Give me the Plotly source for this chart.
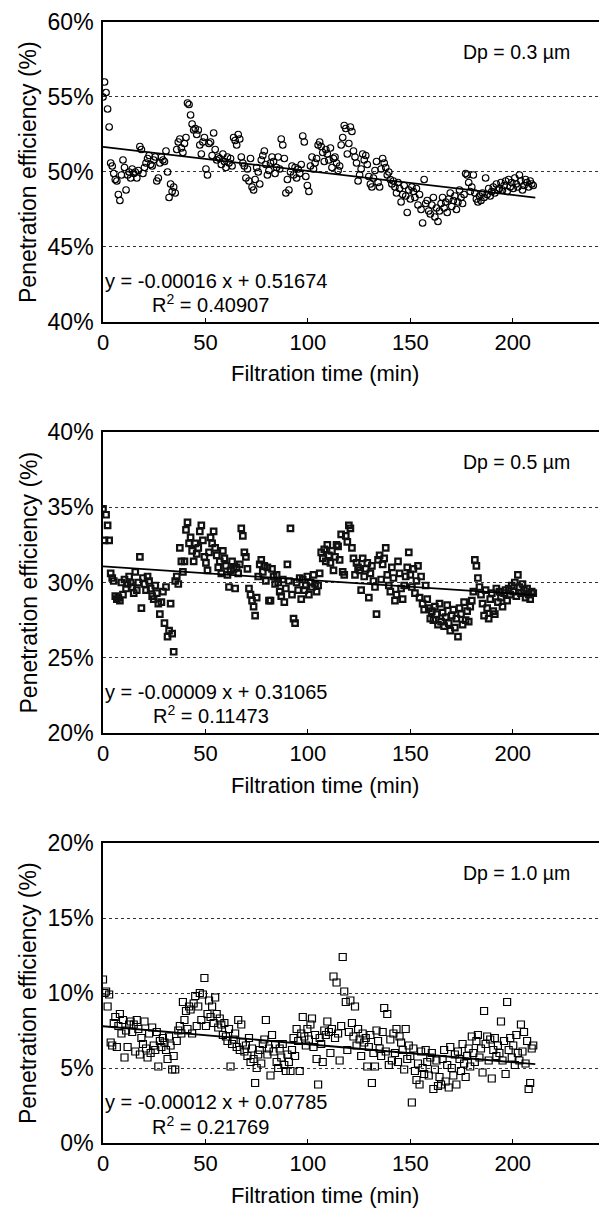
import plotly.graph_objects as go

# ---------------- data ----------------
time_step_min = 0.75  # sampling interval of the measurements

pe_03um = [  # penetration efficiency (%) for Dp = 0.3 um
    55.0, 56.0, 55.3, 54.2, 53.0, 50.6, 50.4, 49.9, 49.5, 49.4, 48.5, 48.1, 49.8, 50.8, 50.3, 48.8, 49.8, 50.0, 49.6, 50.2,
    49.9, 50.0, 49.6, 50.1, 51.7, 51.5, 49.9, 50.3, 50.6, 50.9, 51.1, 50.5, 50.4, 50.8, 51.0, 49.4, 49.6, 50.6, 51.0, 50.8,
    50.7, 51.4, 50.0, 48.3, 49.2, 48.7, 49.0, 48.6, 51.5, 52.0, 52.2, 51.6, 51.3, 51.9, 52.3, 54.6, 54.5, 53.8, 53.2, 52.8,
    52.9, 52.5, 52.8, 51.8, 51.2, 52.0, 52.3, 50.2, 49.8, 51.9, 52.0, 51.1, 52.6, 51.5, 50.8, 51.0, 50.9, 50.5, 51.2, 50.7,
    50.3, 51.0, 50.6, 50.9, 50.4, 52.3, 52.1, 51.8, 52.5, 52.2, 51.0, 50.6, 50.4, 49.6, 50.2, 49.4, 50.9, 49.0, 48.8, 49.5,
    50.3, 50.0, 49.2, 50.8, 51.1, 51.4, 50.5, 49.8, 50.1, 50.6, 51.0, 50.7, 49.9, 50.3, 51.0, 50.2, 52.2, 51.8, 50.9, 48.6,
    49.5, 48.8, 50.0, 50.4, 49.8, 50.3, 49.6, 50.2, 49.9, 50.5, 52.4, 52.0, 49.7, 49.1, 48.7, 50.4, 51.0, 50.2, 50.6, 50.9,
    51.8, 52.0, 51.7, 51.3, 50.7, 51.5, 51.2, 50.8, 51.6, 50.3, 50.9, 51.0, 50.6, 50.1, 50.4, 51.8, 52.3, 53.1, 52.9, 51.2,
    51.9, 53.0, 52.7, 51.4, 51.0, 50.6, 49.4, 49.8, 50.2, 51.2, 50.8, 51.1, 50.5, 49.7, 49.2, 49.0, 49.6, 50.1, 50.7, 49.3,
    49.0, 50.2, 50.9, 50.6, 50.3, 49.8, 50.0, 49.5, 49.2, 49.4, 49.0, 48.6, 49.3, 48.9, 48.0, 48.5, 49.1, 48.4, 47.3, 48.8,
    48.2, 49.0, 48.7, 48.3, 48.9, 47.8, 48.5, 47.5, 46.6, 49.5, 47.9, 48.1, 47.4, 47.2, 47.8, 48.3, 47.0, 47.6, 46.7, 47.4,
    47.9, 48.3, 47.6, 48.0, 47.3, 48.2, 48.6, 47.7, 48.1, 48.4, 47.5, 48.0, 48.8, 48.3, 47.9, 48.5, 49.9, 49.8, 49.3, 48.7,
    49.0, 49.8, 48.6, 48.2, 48.0, 48.4, 48.1, 48.6, 48.3, 49.6, 48.5, 48.9, 48.4, 48.7, 49.0, 48.6, 49.2, 48.8, 48.9, 49.3,
    48.8, 49.1, 49.4, 48.7, 49.5, 49.0, 49.3, 48.9, 49.6, 49.2, 49.0, 49.8, 49.4, 48.8, 49.1, 49.5, 49.3, 49.0, 49.4, 49.2,
    49.1,
]

pe_05um = [  # penetration efficiency (%) for Dp = 0.5 um
    34.9, 32.8, 34.5, 33.8, 32.8, 30.6, 30.3, 30.1, 29.1, 28.9, 29.0, 28.8, 30.0, 29.2, 30.2, 29.6, 29.9, 30.4, 30.0, 29.7,
    29.3, 30.7, 29.5, 30.0, 31.7, 28.3, 30.3, 29.9, 29.5, 30.4, 30.1, 29.6, 29.1, 28.9, 29.8, 29.3, 28.6, 27.9, 28.7, 29.4,
    27.3, 29.7, 26.4, 26.8, 28.6, 26.6, 25.4, 30.1, 30.4, 29.9, 32.3, 31.4, 30.7, 31.4, 33.5, 34.0, 32.6, 33.0, 32.1, 31.4,
    32.6, 31.9, 32.3, 33.4, 33.8, 32.8, 31.7, 31.3, 30.8, 32.0, 33.0, 32.6, 33.4, 32.3, 31.8, 31.0, 31.4, 30.6, 32.1, 31.6,
    31.1, 30.5, 29.7, 30.8, 31.4, 30.9, 29.6, 31.0, 30.6, 31.2, 33.6, 33.1, 32.0, 31.7, 30.9, 29.6, 29.2, 28.8, 28.4, 27.8,
    29.0, 30.4, 31.2, 31.5, 30.7, 31.1, 30.1, 31.0, 28.8, 28.8, 30.9, 30.4, 29.9, 30.5, 30.0, 29.4, 29.1, 30.2, 28.7, 29.6,
    31.2, 30.1, 33.6, 29.2, 27.6, 27.3, 30.0, 29.5, 30.3, 28.9, 30.2, 29.5, 29.8, 30.4, 29.2, 30.0, 29.7, 30.5, 29.9, 29.4,
    29.8, 30.6, 32.0, 31.6, 32.2, 31.4, 32.5, 31.8, 31.3, 32.1, 30.8, 31.7, 32.5, 32.4, 31.5, 33.2, 30.7, 30.5, 33.1, 32.7,
    33.8, 33.6, 32.3, 31.6, 30.5, 31.3, 31.0, 30.8, 29.5, 31.6, 30.4, 30.9, 31.3, 29.0, 30.6, 31.1, 30.1, 29.7, 27.9, 31.5,
    31.8, 30.2, 31.2, 31.6, 32.3, 30.5, 29.8, 29.4, 31.0, 30.3, 28.8, 29.2, 31.4, 30.6, 29.6, 28.9, 29.8, 30.4, 31.0, 32.0,
    30.5, 29.7, 30.9, 29.3, 30.1, 31.1, 29.0, 30.4, 28.6, 28.2, 29.8, 28.9, 28.3, 27.6, 28.1, 27.5, 28.4, 27.9, 27.2, 28.6,
    27.4, 28.0, 27.1, 27.7, 28.5, 27.3, 26.8, 27.8, 28.2, 27.0, 27.6, 26.4, 28.3, 27.9, 27.2, 28.7, 27.5, 28.1, 27.4, 28.4,
    28.8, 29.4, 31.5, 31.1, 30.3, 29.7, 29.2, 28.6, 27.8, 29.5, 28.3, 27.6, 28.9, 29.3, 28.1, 27.9, 29.6, 28.7, 29.4, 29.0,
    28.4, 29.3, 29.5, 28.8, 29.6, 29.2, 29.8, 29.4, 30.0, 29.1, 30.5, 29.7, 29.3, 29.9, 29.5, 29.0, 29.6, 29.2, 28.9, 29.4,
    29.3,
]

pe_10um = [  # penetration efficiency (%) for Dp = 1.0 um
    10.9, 10.0, 10.1, 9.1, 9.9, 6.7, 6.5, 8.0, 8.4, 6.4, 7.8, 8.6, 7.3, 8.2, 5.7, 7.5, 6.4, 7.9, 8.1, 7.4,
    7.9, 6.1, 8.2, 7.6, 5.9, 7.0, 6.6, 8.1, 6.3, 5.7, 7.3, 6.0, 7.7, 6.5, 6.2, 7.4, 5.1, 6.8, 6.4, 7.0,
    6.7, 6.2, 5.6, 7.1, 6.5, 4.9, 5.8, 4.9, 6.8, 7.5, 7.8, 7.3, 9.4, 8.2, 8.8, 7.6, 9.1, 8.9, 7.3, 9.3,
    9.8, 7.8, 9.1, 10.0, 8.2, 9.9, 11.0, 7.8, 8.6, 9.5, 8.4, 9.1, 8.0, 9.7, 8.6, 7.7, 8.3, 7.9, 7.2, 8.0,
    7.1, 6.8, 7.6, 5.1, 6.6, 6.9, 7.3, 6.4, 8.2, 6.2, 7.9, 6.7, 6.1, 6.5, 5.8, 7.0, 5.4, 6.3, 5.6, 4.0,
    5.0, 5.9, 6.2, 5.3, 6.6, 6.9, 8.2, 5.9, 6.3, 4.5, 7.2, 6.1, 6.6, 5.4, 5.0, 6.3, 5.7, 6.6, 5.2, 4.8,
    5.9, 5.4, 4.8, 6.2, 7.0, 5.8, 7.6, 6.8, 4.8, 7.3, 8.4, 7.1, 6.5, 7.6, 6.9, 7.9, 8.3, 6.4, 7.2, 5.6,
    3.9, 7.0, 6.6, 5.4, 7.5, 7.2, 8.1, 7.4, 6.0, 7.6, 11.1, 7.0, 10.7, 7.3, 5.5, 7.8, 12.4, 10.1, 9.4, 6.2,
    7.4, 9.5, 8.0, 7.1, 9.1, 6.5, 7.6, 6.9, 5.8, 7.3, 6.7, 7.0, 5.1, 6.4, 7.2, 4.0, 6.0, 5.1, 7.5, 6.8,
    6.3, 5.8, 7.4, 9.0, 6.1, 8.6, 5.2, 6.9, 5.5, 7.3, 6.0, 7.6, 5.4, 7.1, 6.7, 6.2, 4.9, 7.6, 5.6, 6.5,
    5.8, 2.7, 6.3, 4.8, 4.2, 5.3, 3.9, 6.1, 5.0, 4.6, 6.2, 5.4, 4.5, 5.7, 6.0, 3.6, 4.9, 5.5, 3.8, 4.4,
    3.9, 5.6, 6.2, 4.1, 5.2, 3.7, 6.4, 5.0, 4.5, 5.9, 3.9, 6.1, 5.6, 4.8, 6.6, 5.3, 4.4, 5.8, 6.3, 5.1,
    7.1, 6.0, 5.4, 6.8, 7.2, 5.7, 6.3, 4.7, 8.8, 6.6, 7.1, 5.5, 6.9, 4.3, 6.2, 7.0, 5.8, 6.5, 6.0, 8.1,
    5.5, 6.8, 4.6, 9.4, 6.2, 7.0, 5.7, 6.5, 5.2, 7.2, 6.0, 5.5, 7.9, 6.1, 7.4, 5.3, 6.8, 3.6, 4.0, 6.3,
    6.5,
]

panel_labels = ["Dp = 0.3 \u00b5m", "Dp = 0.5 \u00b5m", "Dp = 1.0 \u00b5m"]
slopes = [-0.00016, -0.00009, -0.00012]
intercepts = [0.51674, 0.31065, 0.07785]
r_squared = ["0.40907", "0.11473", "0.21769"]
y_ranges = [[40, 60], [20, 40], [0, 20]]
x_ticks = [0, 50, 100, 150, 200]
fit_span = [0, 211]

series = [pe_03um, pe_05um, pe_10um]

# ---------------- figure ----------------
# The page has an 8px body margin, so the figure is sized/positioned to compensate.
FONT = "Liberation Sans, Arial, sans-serif"
W, H = 599, 1200
ML, MR, MT, MB = 95, 0, 14, 65
PH = H - MT - MB
domains = [[0.7324, 1.0], [0.3657, 0.6343], [0.0, 0.2676]]
markers = [
    dict(symbol="circle-open", size=6.5, color="black", line=dict(width=1.2, color="black")),
    dict(symbol="square-open", size=5.5, color="#111", line=dict(width=2.2, color="#111")),
    dict(symbol="square-open", size=7, color="black", line=dict(width=1.2, color="black")),
]

fig = go.Figure()
annotations = []
layout_axes = {}
for i in range(3):
    n = i + 1
    xname = "x" if n == 1 else f"x{n}"
    yname = "y" if n == 1 else f"y{n}"
    vals = series[i]
    t = [k * time_step_min for k in range(len(vals))]
    fig.add_trace(go.Scatter(x=t, y=vals, mode="markers", marker=markers[i],
                             xaxis=xname, yaxis=yname, showlegend=False))
    fx = fit_span
    fy = [100 * (slopes[i] * v + intercepts[i]) for v in fx]
    fig.add_trace(go.Scatter(x=fx, y=fy, mode="lines", line=dict(color="black", width=1.8),
                             xaxis=xname, yaxis=yname, showlegend=False))

    xa = "xaxis" if n == 1 else f"xaxis{n}"
    ya = "yaxis" if n == 1 else f"yaxis{n}"
    layout_axes[xa] = dict(
        domain=[0, 1], anchor=yname, range=[0, 246], tickmode="array", tickvals=x_ticks,
        ticks="inside", ticklen=4, tickwidth=1, tickcolor="black",
        showline=True, linecolor="black", linewidth=2, mirror=True,
        showgrid=False, zeroline=False, ticklabelstandoff=0,
        tickfont=dict(family=FONT, size=22, color="black"),
    )
    layout_axes[ya] = dict(
        domain=domains[i], anchor=xname, range=y_ranges[i], dtick=5, ticksuffix="%",
        ticks="", showline=True, linecolor="black", linewidth=1.6, mirror=False,
        showgrid=True, gridcolor="#333", griddash="dot", gridwidth=1, zeroline=False,
        ticklabelstandoff=3,
        tickfont=dict(family=FONT, size=23, color="black"),
    )
    y0, y1 = y_ranges[i]
    # panel label
    annotations.append(dict(x=202, y=y1 - 2.0, xref=xname, yref=yname, text=panel_labels[i],
                            showarrow=False, font=dict(family=FONT, size=19.5, color="black"),
                            xanchor="center", yanchor="middle"))
    # equation and R^2
    annotations.append(dict(x=55, y=y0 + 2.75, xref=xname, yref=yname,
                            text=f"y = {slopes[i]:.5f} x + {intercepts[i]:.5f}",
                            showarrow=False, font=dict(family=FONT, size=20, color="black"),
                            xanchor="center", yanchor="middle"))
    annotations.append(dict(x=52.5, y=y0 + 1.2, xref=xname, yref=yname,
                            text=f"R<sup>2</sup> = {r_squared[i]}",
                            showarrow=False, font=dict(family=FONT, size=20, color="black"),
                            xanchor="center", yanchor="middle"))
    # axis titles
    d0, d1 = domains[i]
    annotations.append(dict(x=(317 - ML) / (W - ML - MR), y=d0 - 52 / PH,
                            xref="paper", yref="paper", text="Filtration time (min)",
                            showarrow=False, font=dict(family=FONT, size=22, color="black"),
                            xanchor="center", yanchor="middle"))
    annotations.append(dict(x=-(ML - 20) / (W - ML - MR), y=(d0 + d1) / 2,
                            xref="paper", yref="paper", text="Penetration efficiency (%)",
                            textangle=-90, showarrow=False,
                            font=dict(family=FONT, size=23, color="black"),
                            xanchor="center", yanchor="middle"))

fig.update_layout(
    width=W, height=H, margin=dict(l=ML, r=MR, t=MT, b=MB),
    paper_bgcolor="white", plot_bgcolor="white",
    font=dict(family=FONT, color="black"),
    annotations=annotations, showlegend=False,
    **layout_axes,
)

fig.write_html("out.html")
